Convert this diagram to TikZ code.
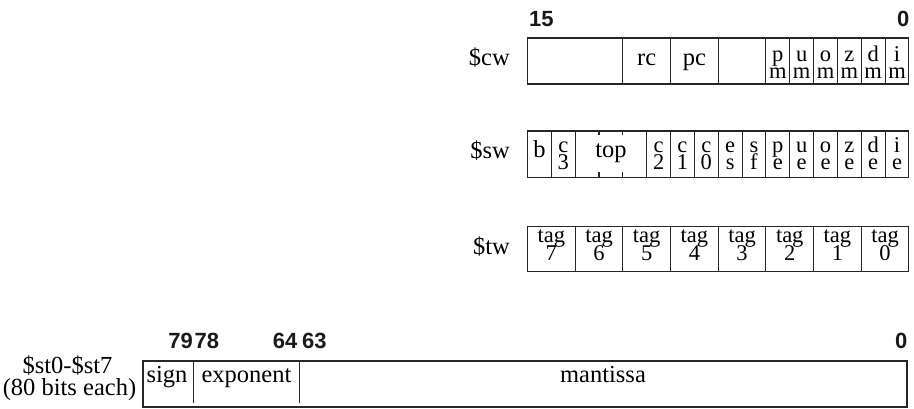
\documentclass[tikz,border=0pt]{standalone}
\usepackage{fontspec}
\setmainfont{Liberation Serif}
\newfontfamily\numfont{Liberation Sans}
\tikzset{
  cellbox/.style={draw=black!85, line width=1.1pt, rectangle, inner sep=0pt, outer sep=0pt},
  divline/.style={draw=black!85, line width=1.1pt},
  txt/.style={font=\fontsize{24.5}{24.5}\selectfont, inner sep=0pt, text=black},
  stk/.style={font=\fontsize{22.5}{22.5}\selectfont, inner sep=0pt, text=black},
  num/.style={font=\numfont\bfseries\fontsize{22}{22}\selectfont, inner sep=0pt, text=black!90}
}
\newcommand\regcell[5]{%
  \pgfmathsetmacro\rcX{527.5+23.84*#2}%
  \pgfmathsetmacro\rcW{23.84*(#3-#2)}%
  \pgfmathsetmacro\rcH{#5-#4}%
  \node[cellbox,anchor=north west,minimum width=\rcW pt,minimum height=\rcH pt] (#1) at (\rcX,#4) {};}
\newcommand\onetext[3]{\node[txt,anchor=base,yshift=-#2pt] (#1-t) at (#1.north) {#3};}
% two stacked lines in one text: #2 = offset of lower baseline, #3 = line distance
\newcommand\stackpair[3]{\vbox{\baselineskip=#1pt\lineskiplimit=-50pt\lineskip=0pt\halign{\hfil##\hfil\cr#2\cr#3\cr}}}
\newcommand\twotext[5]{%
  \node[stk,anchor=base,yshift=-#2pt] (#1-t) at (#1.north) {\stackpair{#3}{#4}{#5}};}
\begin{document}
\begin{tikzpicture}[x=1pt,y=-1pt]
\useasboundingbox (0,0) rectangle (914,408);

% bit numbers top
\node[num,anchor=base west] (n15) at (529,26) {15};
\node[num,anchor=base east] (n0) at (909.5,26.5) {0};

% $cw
\node[txt,anchor=base east] (cwlbl) at (510,65) {\$cw};
\regcell{cwA}{0}{4}{38}{84}
\regcell{cwRC}{4}{6}{38}{84}\onetext{cwRC}{27}{rc}
\regcell{cwPC}{6}{8}{38}{84}\onetext{cwPC}{27}{pc}
\regcell{cwB}{8}{10}{38}{84}
\regcell{cwPM}{10}{11}{38}{84}\twotext{cwPM}{40}{16.5}{p}{m}
\regcell{cwUM}{11}{12}{38}{84}\twotext{cwUM}{40}{16.5}{u}{m}
\regcell{cwOM}{12}{13}{38}{84}\twotext{cwOM}{40}{16.5}{o}{m}
\regcell{cwZM}{13}{14}{38}{84}\twotext{cwZM}{40}{16.5}{z}{m}
\regcell{cwDM}{14}{15}{38}{84}\twotext{cwDM}{40}{16.5}{d}{m}
\regcell{cwIM}{15}{16}{38}{84}\twotext{cwIM}{40}{16.5}{i}{m}

% $sw
\node[txt,anchor=base east] (swlbl) at (510,158) {\$sw};
\regcell{swB}{0}{1}{131}{177.5}\onetext{swB}{26}{b}
\regcell{swCT}{1}{2}{131}{177.5}\twotext{swCT}{38.5}{17.5}{c}{3}
\regcell{swTOP}{2}{5}{131}{177.5}\onetext{swTOP}{26}{top}
\regcell{swCB}{5}{6}{131}{177.5}\twotext{swCB}{38.5}{17.5}{c}{2}
\regcell{swCA}{6}{7}{131}{177.5}\twotext{swCA}{38.5}{17.5}{c}{1}
\regcell{swCZ}{7}{8}{131}{177.5}\twotext{swCZ}{38.5}{17.5}{c}{0}
\regcell{swES}{8}{9}{131}{177.5}\twotext{swES}{38.5}{17.5}{e}{s}
\regcell{swSF}{9}{10}{131}{177.5}\twotext{swSF}{38.5}{17.5}{s}{f}
\regcell{swPE}{10}{11}{131}{177.5}\twotext{swPE}{38.5}{17.5}{p}{e}
\regcell{swUE}{11}{12}{131}{177.5}\twotext{swUE}{38.5}{17.5}{u}{e}
\regcell{swOE}{12}{13}{131}{177.5}\twotext{swOE}{38.5}{17.5}{o}{e}
\regcell{swZE}{13}{14}{131}{177.5}\twotext{swZE}{38.5}{17.5}{z}{e}
\regcell{swDE}{14}{15}{131}{177.5}\twotext{swDE}{38.5}{17.5}{d}{e}
\regcell{swIE}{15}{16}{131}{177.5}\twotext{swIE}{38.5}{17.5}{i}{e}
% bit ticks inside top field
\coordinate (tk1t) at ({527.5+23.84*3},131);
\coordinate (tk1m) at ({527.5+23.84*3},135);
\coordinate (tk1b) at ({527.5+23.84*3},177.5);
\coordinate (tk1n) at ({527.5+23.84*3},171.5);
\coordinate (tk2t) at ({527.5+23.84*4},131);
\coordinate (tk2m) at ({527.5+23.84*4},135);
\coordinate (tk2b) at ({527.5+23.84*4},177.5);
\coordinate (tk2n) at ({527.5+23.84*4},171.5);
\draw[divline] (tk1t) -- (tk1m) (tk1b) -- (tk1n) (tk2t) -- (tk2m) (tk2b) -- (tk2n);

% $tw
\node[txt,anchor=base east] (twlbl) at (510,254) {\$tw};
\foreach \i in {0,...,7}{
  \pgfmathtruncatemacro\kl{2*\i}
  \pgfmathtruncatemacro\kr{2*\i+2}
  \pgfmathtruncatemacro\tg{7-\i}
  \regcell{tag\i}{\kl}{\kr}{226.5}{271.5}
  \twotext{tag\i}{34}{18.5}{tag}{\tg}
}

% $st0-$st7
\node[num,anchor=base east] (n79) at (193,348) {79};
\node[num,anchor=base west] (n78) at (194.5,348) {78};
\node[num,anchor=base east] (n64) at (297.5,348) {64};
\node[num,anchor=base west] (n63) at (302,348) {63};
\node[num,anchor=base east] (n0b) at (907.5,348) {0};
\node[txt,anchor=base] (stl1) at (67.5,373) {\$st0-\$st7};
\node[txt,anchor=base] (stl2) at (69.5,395) {(80 bits each)};
\node[cellbox,anchor=north west,minimum width=764pt,minimum height=46pt] (st) at (143,361) {};
\coordinate (d1t) at (193.3,361);
\coordinate (d1b) at (193.3,403);
\coordinate (d2t) at (299.5,361);
\coordinate (d2b) at (299.5,403);
\draw[divline] (d1t) -- (d1b) (d2t) -- (d2b);
\node[txt,anchor=base] (sign) at (167,382) {sign};
\node[txt,anchor=base] (expo) at (246.5,382) {exponent};
\node[txt,anchor=base] (mant) at (603,382) {mantissa};
\end{tikzpicture}
\end{document}
